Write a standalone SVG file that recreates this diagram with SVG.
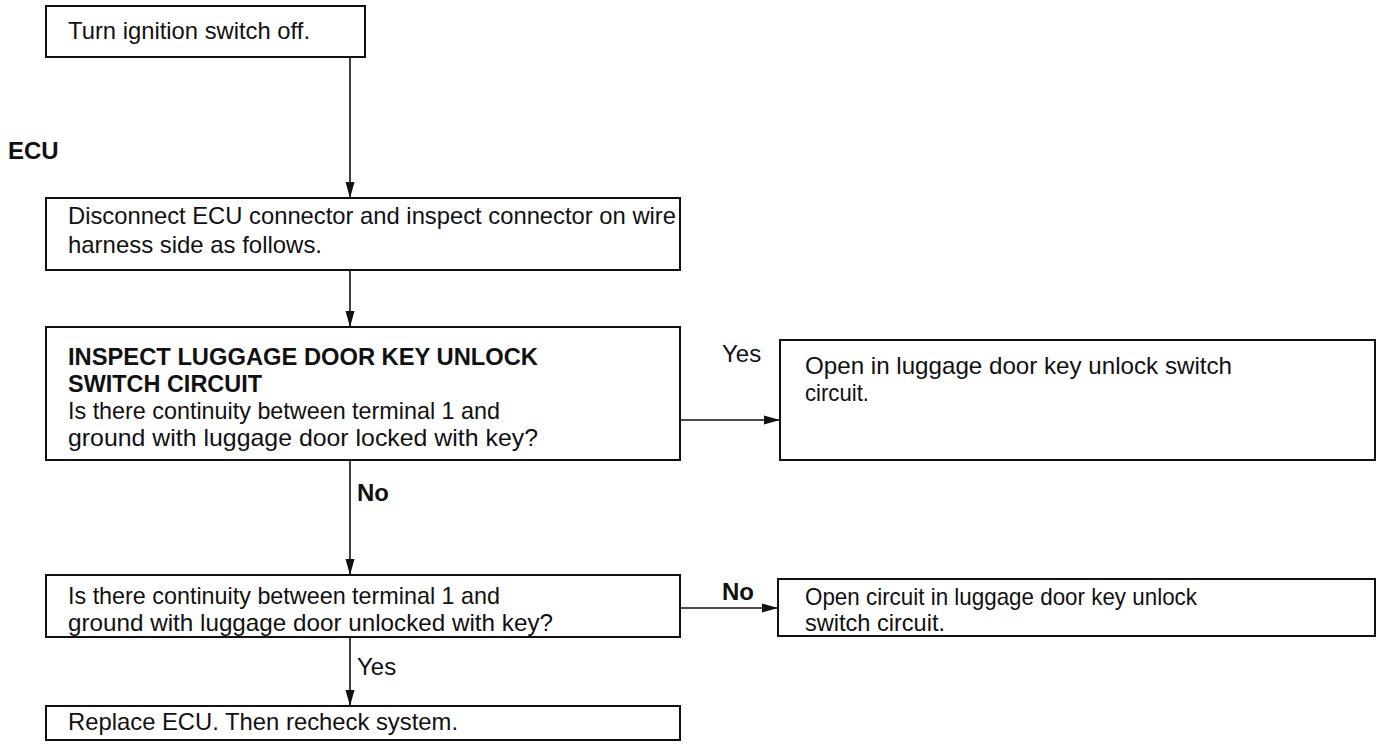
<svg xmlns="http://www.w3.org/2000/svg" width="1385" height="751" viewBox="0 0 1385 751">
<style>
  .box{fill:#fff;stroke:#111;stroke-width:2}
  .t{font-family:"Liberation Sans",Arial,sans-serif;font-size:24px;fill:#111}
  .b{font-family:"Liberation Sans",Arial,sans-serif;font-size:24px;font-weight:bold;fill:#111}
  .c{fill:none;stroke:#111;stroke-width:1.6}
</style>
<defs>
  <marker id="ah" markerWidth="16" markerHeight="10" refX="16" refY="5" orient="auto" markerUnits="userSpaceOnUse">
    <path d="M0,0.5 L16,5 L0,9.5 Z" fill="#111"/>
  </marker>
</defs>
<rect width="1385" height="751" fill="#fff"/>
<text class="b" x="8" y="159">ECU</text>
<g id="connectors">
  <line class="c" x1="350" y1="57" x2="350" y2="198" marker-end="url(#ah)"/>
  <line class="c" x1="350" y1="270" x2="350" y2="327" marker-end="url(#ah)"/>
  <line class="c" x1="680" y1="420" x2="780" y2="420" marker-end="url(#ah)"/>
  <text class="t" x="722" y="362">Yes</text>
  <line class="c" x1="350" y1="460" x2="350" y2="575" marker-end="url(#ah)"/>
  <text class="b" x="357" y="501">No</text>
  <line class="c" x1="680" y1="608" x2="778" y2="608" marker-end="url(#ah)"/>
  <text class="b" x="722" y="600">No</text>
  <line class="c" x1="350" y1="637" x2="350" y2="706" marker-end="url(#ah)"/>
  <text class="t" x="357" y="675">Yes</text>
</g>
<g id="n1">
  <rect class="box" x="46" y="6" width="319" height="51"/>
  <text class="t" x="68" y="39" textLength="242" lengthAdjust="spacingAndGlyphs">Turn ignition switch off.</text>
</g>
<g id="n2">
  <rect class="box" x="46" y="198" width="634" height="72"/>
  <text class="t" x="68" y="224" textLength="608" lengthAdjust="spacingAndGlyphs">Disconnect ECU connector and inspect connector on wire</text>
  <text class="t" x="68" y="253" textLength="254" lengthAdjust="spacingAndGlyphs">harness side as follows.</text>
</g>
<g id="n3">
  <rect class="box" x="46" y="327" width="634" height="133"/>
  <text class="b" x="68" y="365" textLength="470" lengthAdjust="spacingAndGlyphs">INSPECT LUGGAGE DOOR KEY UNLOCK</text>
  <text class="b" x="68" y="392" textLength="194" lengthAdjust="spacingAndGlyphs">SWITCH CIRCUIT</text>
  <text class="t" x="68" y="419" textLength="432" lengthAdjust="spacingAndGlyphs">Is there continuity between terminal 1 and</text>
  <text class="t" x="68" y="446" textLength="470" lengthAdjust="spacingAndGlyphs">ground with luggage door locked with key?</text>
</g>
<g id="n4">
  <rect class="box" x="780" y="340" width="595" height="120"/>
  <text class="t" x="805" y="374" textLength="427" lengthAdjust="spacingAndGlyphs">Open in luggage door key unlock switch</text>
  <text class="t" x="805" y="401" textLength="64" lengthAdjust="spacingAndGlyphs">circuit.</text>
</g>
<g id="n5">
  <rect class="box" x="46" y="575" width="634" height="62"/>
  <text class="t" x="68" y="604" textLength="432" lengthAdjust="spacingAndGlyphs">Is there continuity between terminal 1 and</text>
  <text class="t" x="68" y="631" textLength="485" lengthAdjust="spacingAndGlyphs">ground with luggage door unlocked with key?</text>
</g>
<g id="n6">
  <rect class="box" x="778" y="579" width="597" height="57"/>
  <text class="t" x="805" y="605" textLength="392" lengthAdjust="spacingAndGlyphs">Open circuit in luggage door key unlock</text>
  <text class="t" x="805" y="631" textLength="140" lengthAdjust="spacingAndGlyphs">switch circuit.</text>
</g>
<g id="n7">
  <rect class="box" x="46" y="706" width="634" height="34"/>
  <text class="t" x="68" y="730" textLength="390" lengthAdjust="spacingAndGlyphs">Replace ECU. Then recheck system.</text>
</g>
</svg>
